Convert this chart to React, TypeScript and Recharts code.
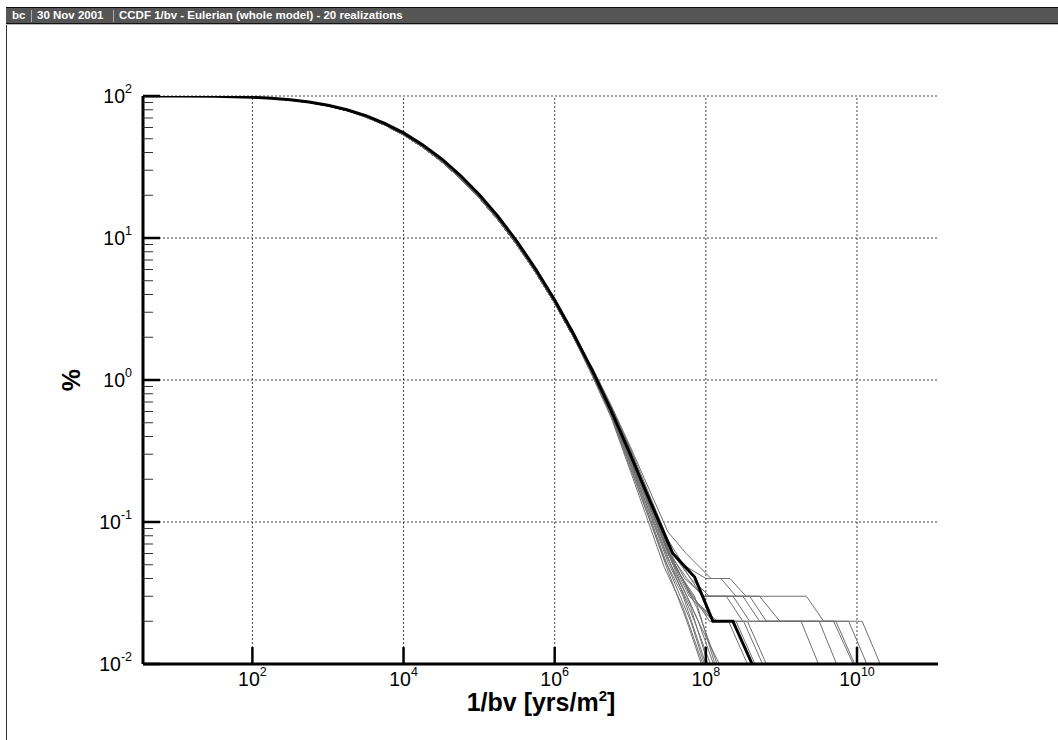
import React from 'react';
import { LineChart, Line, XAxis, YAxis, ReferenceLine } from 'recharts';

// axis setup
const xDomain = [3.57, 1.18e11];
const yDomain = [0.01, 100];
const xTicks = [1e2, 1e4, 1e6, 1e8, 1e10];
const xTickExp = ['2', '4', '6', '8', '10'];
const yMajor = [0.01, 0.1, 1, 10, 100];
const yMajorExp = ['-2', '-1', '0', '1', '2'];
const yMinor = [
  0.02, 0.03, 0.04, 0.05, 0.06, 0.07, 0.08, 0.09,
  0.2, 0.3, 0.4, 0.5, 0.6, 0.7, 0.8, 0.9,
  2, 3, 4, 5, 6, 7, 8, 9,
  20, 30, 40, 50, 60, 70, 80, 90,
];

// thick black curve: [1/bv, %]
const meanBody = [
  [3.57, 99.97], [10, 99.86], [31.6, 99.41], [56.2, 98.87], [100, 97.93], [178, 96.41],
  [316, 94.07], [562, 90.69], [1000, 86.04], [1780, 80.04], [3160, 72.68], [5620, 64.2],
  [1e4, 54.97], [1.78e4, 45.42], [3.16e4, 36.17], [5.62e4, 27.63], [1e5, 20.24],
  [1.78e5, 14.17], [3.16e5, 9.48], [5.62e5, 6.03], [1e6, 3.66], [1.78e6, 2.11],
];
const meanTail = [
  [3.16e6, 1.16], [5.62e6, 0.604], [1e7, 0.299], [1.8e7, 0.143], [3.66e7, 0.06],
  [7.1e7, 0.041], [1.24e8, 0.02], [2.28e8, 0.02], [4.1e8, 0.01],
];

// the 20 grey realizations share the upper part of the curve
const grayBody = [
  [3.57, 99.97], [10, 99.85], [31.6, 99.38], [56.2, 98.8], [100, 97.8], [178, 96.2],
  [316, 93.7], [562, 90.1], [1000, 85.2], [1780, 78.9], [3160, 71.2], [5620, 62.5],
  [1e4, 53.2], [1.78e4, 43.7], [3.16e4, 34.6], [5.62e4, 26.3], [1e5, 19.2],
  [1.78e5, 13.4], [3.16e5, 8.95], [5.62e5, 5.7], [1e6, 3.47], [1.78e6, 2.0],
];
const realizationTails = [
  [[3.16e6, 1.1], [5.62e6, 0.56], [1e7, 0.25], [3.16e7, 0.045], [5.62e7, 0.02], [8.71e7, 0.01]],
  [[3.16e6, 1.12], [5.62e6, 0.57], [1e7, 0.26], [3.16e7, 0.048], [6.31e7, 0.02], [9.55e7, 0.01]],
  [[3.16e6, 1.08], [5.62e6, 0.55], [1e7, 0.24], [2.82e7, 0.055], [5.01e7, 0.03], [1e8, 0.01]],
  [[3.16e6, 1.14], [5.62e6, 0.58], [1e7, 0.27], [3.16e7, 0.052], [6.31e7, 0.025], [1.07e8, 0.01]],
  [[3.16e6, 1.16], [5.62e6, 0.59], [1e7, 0.28], [3.55e7, 0.048], [7.08e7, 0.02], [1.15e8, 0.01]],
  [[3.16e6, 1.11], [5.62e6, 0.57], [1e7, 0.26], [3.16e7, 0.055], [5.62e7, 0.03], [7.94e7, 0.02], [1.26e8, 0.01]],
  [[3.16e6, 1.17], [5.62e6, 0.6], [1e7, 0.29], [3.55e7, 0.052], [7.08e7, 0.03], [1.32e8, 0.01]],
  [[3.16e6, 1.15], [5.62e6, 0.59], [1e7, 0.28], [3.98e7, 0.045], [7.94e7, 0.02], [1.51e8, 0.01]],
  [[3.16e6, 1.06], [5.62e6, 0.54], [1e7, 0.23], [2.82e7, 0.048], [5.01e7, 0.025], [9.12e7, 0.01]],
  [[3.16e6, 1.13], [5.62e6, 0.58], [1e7, 0.27], [3.55e7, 0.055], [7.59e7, 0.025], [1.41e8, 0.01]],
  [[3.16e6, 1.22], [5.62e6, 0.66], [1e7, 0.34], [3.16e7, 0.085], [5.5e7, 0.06], [1.17e8, 0.04], [2.09e8, 0.04],
    [3.39e8, 0.03], [2.14e9, 0.03], [3.63e9, 0.02], [1.17e10, 0.02], [2.03e10, 0.01]],
  [[3.16e6, 1.21], [5.62e6, 0.65], [1e7, 0.33], [3.16e7, 0.075], [5.01e7, 0.05], [1e8, 0.04], [1.58e8, 0.04],
    [2.51e8, 0.03], [5.13e8, 0.03], [9.55e8, 0.02], [7.76e9, 0.02], [1.35e10, 0.01]],
  [[3.16e6, 1.18], [5.62e6, 0.63], [1e7, 0.31], [3.16e7, 0.068], [4.79e7, 0.05], [8.91e7, 0.03], [1.86e8, 0.03],
    [3.09e8, 0.02], [5.25e9, 0.02], [9.33e9, 0.01]],
  [[3.16e6, 1.2], [5.62e6, 0.64], [1e7, 0.32], [3.16e7, 0.065], [5.25e7, 0.04], [9.55e7, 0.03], [2.29e8, 0.03],
    [3.8e8, 0.02], [4.9e9, 0.02], [8.91e9, 0.01]],
  [[3.16e6, 1.17], [5.62e6, 0.62], [1e7, 0.3], [3.16e7, 0.062], [5.62e7, 0.04], [9.12e7, 0.03], [3.09e8, 0.03],
    [5.13e8, 0.02], [3.16e9, 0.02], [5.37e9, 0.01]],
  [[3.16e6, 1.19], [5.62e6, 0.63], [1e7, 0.31], [3.16e7, 0.066], [6.31e7, 0.04], [1.12e8, 0.03], [3.8e8, 0.03],
    [6.31e8, 0.02], [1.82e9, 0.02], [3.09e9, 0.01]],
  [[3.16e6, 1.17], [5.62e6, 0.62], [1e7, 0.3], [3.16e7, 0.06], [6.03e7, 0.03], [1.26e8, 0.02], [3.55e8, 0.02],
    [6.31e8, 0.01]],
  [[3.16e6, 1.18], [5.62e6, 0.62], [1e7, 0.31], [3.16e7, 0.062], [5.62e7, 0.035], [1.12e8, 0.02], [3.16e8, 0.02],
    [5.62e8, 0.01]],
  [[3.16e6, 1.2], [5.62e6, 0.64], [1e7, 0.32], [3.16e7, 0.064], [6.31e7, 0.03], [1.41e8, 0.02], [2.51e8, 0.02],
    [4.47e8, 0.01]],
  [[3.16e6, 1.16], [5.62e6, 0.61], [1e7, 0.3], [3.16e7, 0.06], [6.61e7, 0.03], [1.26e8, 0.02], [2e8, 0.02],
    [3.55e8, 0.01]],
];

const toPts = (arr: number[][]) => arr.map(([x, y]) => ({ x, y }));
const meanSeries = toPts([...meanBody, ...meanTail]);
const realizations = realizationTails.map((t) => toPts([...grayBody, ...t]));

const PLOT_LEFT = 143;
const PLOT_BOTTOM = 664;
const FONT = 'Liberation Sans, Arial, Helvetica, sans-serif';

const XTick = (props: any) => {
  const { payload } = props;
  const cx = payload.coordinate;
  const i = xTicks.indexOf(payload.value);
  return (
    <g>
      <line x1={cx} x2={cx} y1={PLOT_BOTTOM} y2={PLOT_BOTTOM - 17} stroke="#000" strokeWidth={2.5} />
      <text x={cx} y={686} textAnchor="middle" fontSize={19.5} fontFamily={FONT} fill="#000">
        10<tspan dy={-10} fontSize={12.5}>{xTickExp[i]}</tspan>
      </text>
    </g>
  );
};

const YTick = (props: any) => {
  const { payload } = props;
  const cy = payload.coordinate;
  const i = yMajor.indexOf(payload.value);
  if (i < 0) {
    return <line x1={PLOT_LEFT} x2={PLOT_LEFT + 10} y1={cy} y2={cy} stroke="#333" strokeWidth={1} />;
  }
  return (
    <g>
      <line x1={PLOT_LEFT} x2={PLOT_LEFT + 17} y1={cy} y2={cy} stroke="#000" strokeWidth={2.5} />
      <text x={132} y={cy + 7} textAnchor="end" fontSize={19.5} fontFamily={FONT} fill="#000">
        10<tspan dy={-10} fontSize={12.5}>{yMajorExp[i]}</tspan>
      </text>
    </g>
  );
};

export default function App() {
  return (
    <div style={{ position: 'absolute', left: 0, top: 0, width: 1058, height: 740, background: '#fff', overflow: 'hidden' }}>
      <div style={{ position: 'absolute', left: 6, top: 7, width: 1, height: 733, background: '#333' }} />
      <div
        style={{
          position: 'absolute', left: 6, top: 7, width: 1052, height: 15,
          background: '#555', borderTop: '1px solid #111', borderBottom: '1px solid #111',
          boxShadow: '0 1px 0 #bbb', color: '#fff', fontFamily: FONT, fontWeight: 'bold',
          fontSize: 11.5, lineHeight: '15px', whiteSpace: 'nowrap',
        }}
      >
        <span style={{ position: 'absolute', left: 6 }}>bc</span>
        <span style={{ position: 'absolute', left: 25, top: 2, width: 1, height: 12, background: '#aaa' }} />
        <span style={{ position: 'absolute', left: 31 }}>30 Nov 2001</span>
        <span style={{ position: 'absolute', left: 107, top: 2, width: 1, height: 12, background: '#aaa' }} />
        <span style={{ position: 'absolute', left: 113 }}>CCDF 1/bv - Eulerian (whole model) - 20 realizations</span>
      </div>

      <div style={{ position: 'absolute', left: 0, top: 0 }}>
        <LineChart width={1058} height={740} margin={{ top: 96, right: 120, bottom: 26, left: 63 }}>
          <XAxis
            dataKey="x"
            type="number"
            scale="log"
            domain={xDomain}
            allowDataOverflow
            ticks={xTicks}
            interval={0}
            tick={<XTick />}
            tickLine={false}
            axisLine={{ stroke: '#000', strokeWidth: 3 }}
            height={50}
          />
          <YAxis
            type="number"
            scale="log"
            domain={yDomain}
            allowDataOverflow
            ticks={[...yMajor, ...yMinor]}
            interval={0}
            tick={<YTick />}
            tickLine={false}
            axisLine={{ stroke: '#000', strokeWidth: 3 }}
            width={80}
          />
          {xTicks.map((v) => (
            <ReferenceLine key={`gx${v}`} x={v} stroke="#444" strokeDasharray="2 2" />
          ))}
          {yMajor.slice(1).map((v) => (
            <ReferenceLine key={`gy${v}`} y={v} stroke="#444" strokeDasharray="2 2" />
          ))}
          {realizations.map((d, k) => (
            <Line
              key={`r${k}`}
              data={d}
              dataKey="y"
              type="linear"
              stroke="#707070"
              strokeWidth={1}
              dot={false}
              activeDot={false}
              isAnimationActive={false}
            />
          ))}
          <Line
            data={meanSeries}
            dataKey="y"
            type="linear"
            stroke="#000"
            strokeWidth={3}
            dot={false}
            activeDot={false}
            isAnimationActive={false}
          />
        </LineChart>
      </div>

      <svg width={1058} height={740} style={{ position: 'absolute', left: 0, top: 0, pointerEvents: 'none' }}>
        <text
          x={71}
          y={380}
          transform="rotate(-90 71 380)"
          textAnchor="middle"
          dominantBaseline="central"
          fontFamily={FONT}
          fontWeight="bold"
          fontSize={25}
        >
          %
        </text>
        <text x={541} y={711} textAnchor="middle" fontFamily={FONT} fontWeight="bold" fontSize={25}>
          1/bv [yrs/m<tspan dy={-10} fontSize={15}>2</tspan>
          <tspan dy={10}>]</tspan>
        </text>
      </svg>
    </div>
  );
}
